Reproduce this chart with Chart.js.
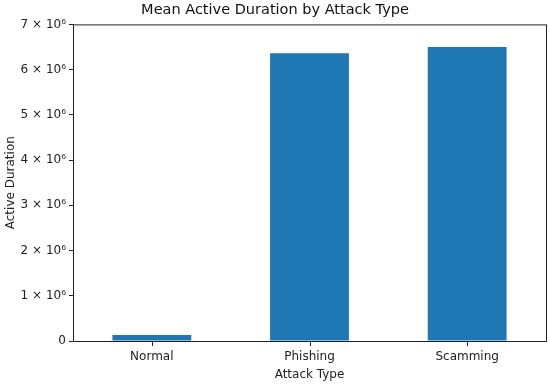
<!DOCTYPE html>
<html>
<head>
<meta charset="utf-8">
<script src="https://cdn.jsdelivr.net/npm/chart.js@4/dist/chart.umd.min.js"></script>
<style>
  html, body { margin: 0; padding: 0; background: #fff; }
  #wrap { width: 550px; height: 385px; }
</style>
</head>
<body>
<div id="wrap"><canvas id="myChart" width="550" height="385"></canvas></div>
<script>
const attackTypes = ["Normal", "Phishing", "Scamming"];
const meanActiveDuration = [130000, 6360000, 6500000];
const yTicks = [0, 1e6, 2e6, 3e6, 4e6, 5e6, 6e6, 7e6];

const font = "'DejaVu Sans', sans-serif";
Chart.defaults.font.family = font;
Chart.defaults.color = "#222";

// matplotlib style box around the plot + x tick marks under each bar
const frame = {
  id: "frame",
  afterDraw(chart) {
    const { ctx, chartArea: a } = chart;
    const x = chart.scales.x;
    ctx.save();
    ctx.strokeStyle = "#222";
    ctx.lineWidth = 1;
    ctx.strokeRect(a.left + 0.5, a.top + 0.5, a.right - a.left, a.bottom - a.top);
    ctx.beginPath();
    for (let i = 0; i < attackTypes.length; i++) {
      const px = Math.round(x.getPixelForValue(i)) + 0.5;
      ctx.moveTo(px, a.bottom);
      ctx.lineTo(px, a.bottom + 5);
    }
    ctx.stroke();
    ctx.restore();
  },
};

new Chart(document.getElementById("myChart"), {
  type: "bar",
  data: {
    labels: attackTypes,
    datasets: [
      {
        data: meanActiveDuration,
        backgroundColor: "#1f77b4",
        barPercentage: 0.5,
        categoryPercentage: 1,
      },
    ],
  },
  options: {
    responsive: false,
    animation: false,
    layout: { padding: { top: 0, right: 4, bottom: 3, left: 4 } },
    plugins: {
      legend: { display: false },
      tooltip: { enabled: false },
      title: {
        display: true,
        text: "Mean Active Duration by Attack Type",
        font: { size: 14.5, weight: "normal" },
        color: "#111",
        padding: { top: 2, bottom: 5 },
      },
    },
    scales: {
      x: {
        grid: { display: false },
        border: { color: "#222" },
        ticks: { font: { size: 12 }, padding: 1, maxRotation: 0 },
        afterFit: (axis) => {
          axis.height = 41;
        },
        title: { display: true, text: "Attack Type", font: { size: 12 }, padding: { top: 1, bottom: 0 } },
      },
      y: {
        min: 0,
        max: 7e6,
        afterBuildTicks: (axis) => {
          axis.ticks = yTicks.map((v) => ({ value: v }));
        },
        afterFit: (axis) => {
          axis.width = 69;
        },
        grid: { display: true, drawOnChartArea: false, tickLength: 4, color: "#222" },
        border: { color: "#222" },
        ticks: {
          font: { size: 12 },
          padding: 3,
          callback: (v) => (v === 0 ? "0" : v / 1e6 + " \u00d7 10\u2076"),
        },
        title: { display: true, text: "Active Duration", font: { size: 12 }, padding: { top: 0, bottom: 4 } },
      },
    },
  },
  plugins: [frame],
});
</script>
</body>
</html>
